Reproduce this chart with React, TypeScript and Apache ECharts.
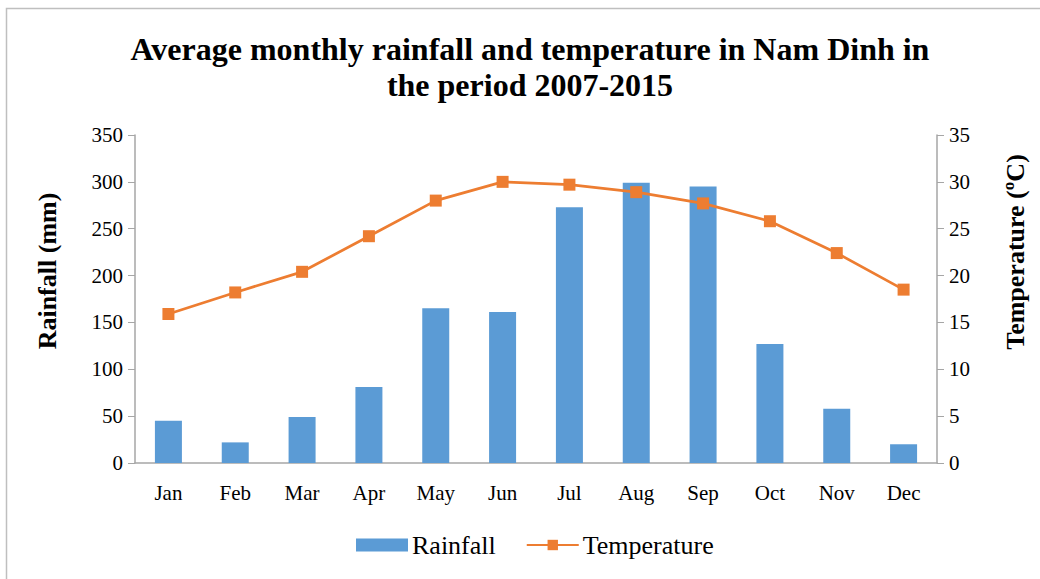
import React, { useEffect, useRef } from "react";
import * as echarts from "echarts";

const months = ["Jan", "Feb", "Mar", "Apr", "May", "Jun", "Jul", "Aug", "Sep", "Oct", "Nov", "Dec"];
const rainfall = [45, 22, 49, 81, 165, 161, 273, 299, 295, 127, 58, 20];
const temperature = [15.9, 18.2, 20.4, 24.2, 28.0, 30.0, 29.7, 28.9, 27.7, 25.8, 22.4, 18.5];
const titleText = "Average monthly rainfall and temperature in Nam Dinh in\nthe period 2007-2015";
const leftAxisName = "Rainfall (mm)";
const rightAxisName = "Temperature (ºC)";

const FONT = "Liberation Serif, Times New Roman, serif";

export default function App() {
  const ref = useRef<HTMLDivElement>(null);
  useEffect(() => {
    if (!ref.current) return;
    const chart = echarts.init(ref.current, undefined, { renderer: "svg" });
    chart.setOption({
      animation: false,
      backgroundColor: "#ffffff",
      textStyle: { fontFamily: FONT },
      graphic: [
        {
          type: "rect",
          shape: { x: 6.5, y: 8.5, width: 1060, height: 600 },
          style: { fill: "none", stroke: "#bfbfbf", lineWidth: 1.5 },
          silent: true,
          z: -1,
        },
        {
          type: "text",
          x: 47,
          y: 271,
          rotation: Math.PI / 2,
          style: {
            text: leftAxisName,
            fontFamily: FONT,
            fontWeight: "bold",
            fontSize: 26,
            fill: "#000",
            align: "center",
            verticalAlign: "middle",
          },
        },
        {
          type: "text",
          x: 1015,
          y: 252,
          rotation: Math.PI / 2,
          style: {
            text: rightAxisName,
            fontFamily: FONT,
            fontWeight: "bold",
            fontSize: 26,
            fill: "#000",
            align: "center",
            verticalAlign: "middle",
          },
        },
      ],
      title: {
        text: titleText,
        left: 525,
        textAlign: "center",
        top: 26,
        textStyle: {
          fontFamily: FONT,
          fontWeight: "bold",
          fontSize: 32,
          lineHeight: 36,
          color: "#000",
        },
      },
      legend: {
        top: 527,
        left: 351,
        itemGap: 30,
        itemWidth: 52,
        itemHeight: 13,
        textStyle: { fontFamily: FONT, fontSize: 26, color: "#000", padding: [0, 0, 0, -1] },
        data: [
          { name: "Rainfall", icon: "rect" },
          { name: "Temperature" },
        ],
      },
      grid: { left: 135, right: 103, top: 135, bottom: 116 },
      xAxis: {
        type: "category",
        data: months,
        axisLine: { lineStyle: { color: "#a6a6a6", width: 1.5 } },
        axisTick: { show: false },
        axisLabel: { color: "#000", fontSize: 21, fontFamily: FONT, margin: 19 },
      },
      yAxis: [
        {
          type: "value",
          min: 0,
          max: 350,
          interval: 50,
          axisLine: { show: true, lineStyle: { color: "#a6a6a6", width: 1.5 } },
          axisTick: { show: true, length: 7, lineStyle: { color: "#a6a6a6" } },
          axisLabel: { color: "#000", fontSize: 21, fontFamily: FONT, margin: 12 },
          splitLine: { show: false },
        },
        {
          type: "value",
          min: 0,
          max: 35,
          interval: 5,
          axisLine: { show: true, lineStyle: { color: "#a6a6a6", width: 1.5 } },
          axisTick: { show: true, length: 7, lineStyle: { color: "#a6a6a6" } },
          axisLabel: { color: "#000", fontSize: 21, fontFamily: FONT, margin: 12 },
          splitLine: { show: false },
        },
      ],
      series: [
        {
          name: "Rainfall",
          type: "bar",
          data: rainfall,
          yAxisIndex: 0,
          barWidth: 27,
          itemStyle: { color: "#5B9BD5" },
        },
        {
          name: "Temperature",
          type: "line",
          data: temperature,
          yAxisIndex: 1,
          symbol: "rect",
          symbolSize: 12,
          lineStyle: { color: "#ED7D31", width: 2.75 },
          itemStyle: { color: "#ED7D31" },
        },
      ],
    });
    return () => chart.dispose();
  }, []);
  return (
    <div
      ref={ref}
      style={{ position: "absolute", left: 0, top: 0, width: 1040, height: 579 }}
    />
  );
}
